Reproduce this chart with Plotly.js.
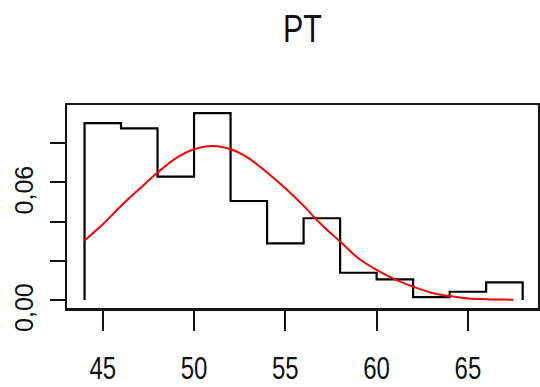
<!DOCTYPE html>
<html>
<head>
<meta charset="utf-8">
<script src="https://cdn.plot.ly/plotly-3.0.1.min.js"></script>
<style>html,body{margin:0;padding:0;background:#fff;}#chart{width:540px;height:387px;}</style>
</head>
<body>
<div id="chart"></div>
<script>
// Histogram bins (edges) and densities
const binEdges = [44, 46, 48, 50, 52, 54, 56, 58, 60, 62, 64, 66, 68];
const densities = [0.0903, 0.0876, 0.0629, 0.0954, 0.0505, 0.0289, 0.0417, 0.0139, 0.0105, 0.0014, 0.0042, 0.0090];

// Red density curve points
const curveX = [44, 45, 46, 47, 48, 49, 50, 51, 52, 53, 54, 55, 56, 57, 58, 59, 60, 61, 62, 63, 64, 65, 66, 67, 67.5];
const curveY = [0.0303, 0.0386, 0.0480, 0.0566, 0.0650, 0.0723, 0.0769, 0.0786, 0.0769, 0.0723, 0.0650, 0.0570, 0.0480, 0.0383, 0.0298, 0.0213, 0.0153, 0.0105, 0.0068, 0.0037, 0.0020, 0.0008, 0.0004, 0.0002, 0.0001];

const xTicks = [45, 50, 55, 60, 65];
const xTickText = ["45", "50", "55", "60", "65"];
const yTicks = [0.00, 0.02, 0.04, 0.06, 0.08];
const yTickText = ["0,00", "", "", "0,06", ""];
const titleText = "PT";

// step outline built from the bins
const stepX = [binEdges[0]].concat(binEdges.slice(0, densities.length), [binEdges[binEdges.length - 1], binEdges[binEdges.length - 1]]);
const stepY = [0].concat(densities, [densities[densities.length - 1], 0]);

const traces = [
  {x: stepX, y: stepY, type: 'scatter', mode: 'lines', line: {color: '#000', width: 2.2, shape: 'hv'}, hoverinfo: 'skip'},
  {x: curveX, y: curveY, type: 'scatter', mode: 'lines', line: {color: '#ff0000', width: 2, shape: 'spline'}, hoverinfo: 'skip'}
];

const annotations = [];
yTicks.forEach((v, i) => {
  if (yTickText[i]) {
    annotations.push({
      text: yTickText[i], xref: 'paper', yref: 'y', x: -0.0913, y: v,
      xanchor: 'center', yanchor: 'middle', yshift: -7, textangle: -90, showarrow: false,
      font: {family: 'Liberation Sans, Arial, sans-serif', size: 25, color: '#111'}
    });
  }
});

const layout = {
  width: 540, height: 387,
  margin: {l: 67, r: 2, t: 105, b: 79},
  paper_bgcolor: '#fff', plot_bgcolor: '#fff',
  showlegend: false,
  title: {text: titleText, x: 0.56, xanchor: 'center', y: 0.925, yanchor: 'middle',
          font: {family: 'Liberation Sans, Arial, sans-serif', size: 38, color: '#111'}},
  xaxis: {range: [43.04, 68.84], tickvals: xTicks, ticktext: xTickText, ticks: 'outside', ticklen: 20, tickwidth: 2, tickcolor: '#111',
          ticklabelstandoff: 10,
          showgrid: false, zeroline: false, showline: true, mirror: true, linecolor: '#111', linewidth: 2.5,
          tickfont: {family: 'Liberation Sans, Arial, sans-serif', size: 32, color: '#111'}},
  yaxis: {range: [-0.0041, 0.0995], tickvals: yTicks, ticktext: ["", "", "", "", ""], ticks: 'outside', ticklen: 15, tickwidth: 2, tickcolor: '#111',
          showgrid: false, zeroline: false, showline: true, mirror: true, linecolor: '#111', linewidth: 2.5},
  annotations: annotations
};

function narrow(selector, sx) {
  document.querySelectorAll(selector).forEach(t => {
    try {
      const b = t.getBBox();
      const cx = b.x + b.width / 2;
      const prev = t.getAttribute('transform') || '';
      t.setAttribute('transform', prev + ' translate(' + cx + ',0) scale(' + sx + ',1) translate(' + (-cx) + ',0)');
    } catch (e) {}
  });
}

Plotly.newPlot('chart', traces, layout, {displayModeBar: false, staticPlot: true}).then(() => {
  narrow('#chart .xtick text', 0.75);
  narrow('#chart .gtitle', 0.8);
});
</script>
</body>
</html>
